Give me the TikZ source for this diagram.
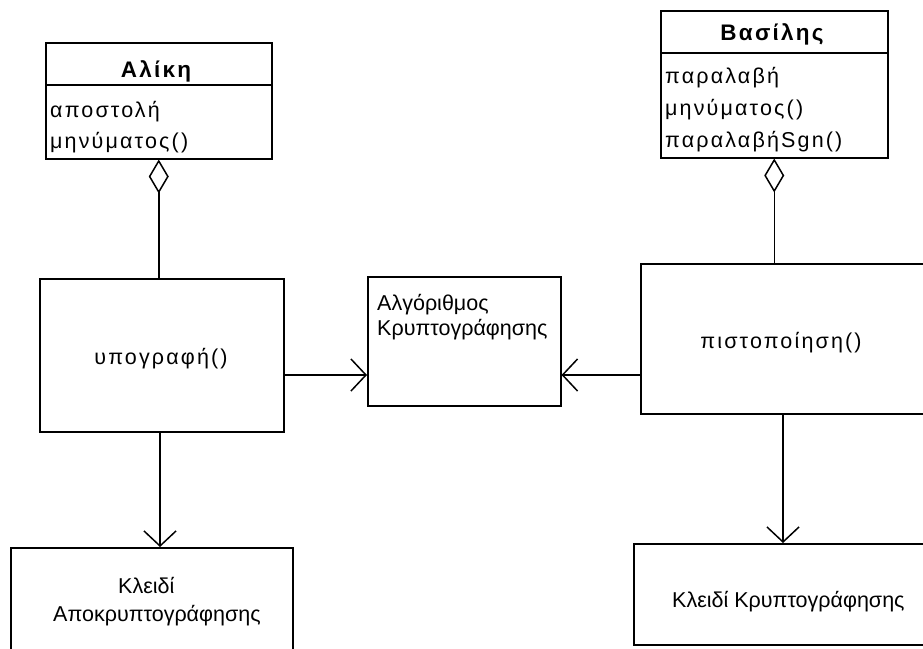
\documentclass[tikz,border=0pt]{standalone}
\usepackage{fontspec}
\setmainfont{Liberation Sans}
\newfontfamily\umlfont[LetterSpace=10]{Liberation Sans}
\usetikzlibrary{arrows.meta}

\tikzset{
  box/.style={draw, rectangle, line width=1.5pt, inner sep=0pt, anchor=north west},
  txt/.style={inner sep=0pt, font=\fontsize{21.5}{26}\selectfont},
  umltxt/.style={inner sep=0pt, font=\umlfont\fontsize{21.5}{26}\selectfont},
  headtxt/.style={inner sep=0pt, font=\umlfont\bfseries\fontsize{22.5}{27}\selectfont},
  conn/.style={line width=1.5pt},
  uses/.style={conn, -{Straight Barb[length=15pt,width=32pt,line width=1.5pt]}},
  aggr/.style={conn, -{Diamond[open,length=34pt,width=20pt,line width=1.5pt]}}
}

\begin{document}
\begin{tikzpicture}[x=1pt, y=-1pt]
  \useasboundingbox (0,0) rectangle (923,648);
  \clip (0,0) rectangle (923,648);

  % Alice class
  \node[box, minimum width=226pt, minimum height=42pt] (aliceH) at (45,42) {};
  \node[box, minimum width=226pt, minimum height=74pt] (alice) at (45,84) {};
  \node[headtxt, anchor=base] (aliceT) at (156,77) {Αλίκη};
  \node[umltxt, anchor=base west] (aliceM1) at (50,117) {αποστολή};
  \node[umltxt, anchor=base west] (aliceM2) at (50,148) {μηνύματος()};

  % Bob class
  \node[box, minimum width=227pt, minimum height=42pt] (bobH) at (660,10) {};
  \node[box, minimum width=227pt, minimum height=105pt] (bob) at (660,52) {};
  \node[headtxt, anchor=base] (bobT) at (772,40) {Βασίλης};
  \node[umltxt, anchor=base west] (bobM1) at (665,83) {παραλαβή};
  \node[umltxt, anchor=base west] (bobM2) at (665,115) {μηνύματος()};
  \node[umltxt, anchor=base west] (bobM3) at (665,147) {παραλαβήSgn()};

  % Signing and verification
  \node[box, minimum width=244pt, minimum height=153pt] (sig) at (39,278) {};
  \node[umltxt, anchor=base] (sigT) at (161,364) {υπογραφή()};
  \node[box, minimum width=290pt, minimum height=150pt] (ver) at (640,263) {};
  \node[umltxt, anchor=base] (verT) at (781,348) {πιστοποίηση()};

  % Encryption algorithm
  \node[box, minimum width=193pt, minimum height=129pt] (algo) at (367,276) {};
  \node[txt, anchor=base west] (algoT1) at (377,310) {Αλγόριθμος};
  \node[txt, anchor=base west] (algoT2) at (377,335) {Κρυπτογράφησης};

  % Keys
  \node[box, minimum width=282pt, minimum height=110pt] (dkey) at (10,547) {};
  \node[txt, anchor=base west] (dkeyT1) at (118,593) {Κλειδί};
  \node[txt, anchor=base west] (dkeyT2) at (53,621) {Αποκρυπτογράφησης};
  \node[box, minimum width=300pt, minimum height=101pt] (ekey) at (633,543) {};
  \node[txt, anchor=base west] (ekeyT) at (672,607) {Κλειδί Κρυπτογράφησης};

  % Connectors
  \draw[aggr] (alice.south |- sig.north) -- (alice.south);
  \draw[aggr] (bob.south |- ver.north) -- (bob.south);
  \draw[uses] (sig.east |- 0,375) -- (algo.west |- 0,375);
  \draw[uses] (ver.west |- 0,375) -- (algo.east |- 0,375);
  \draw[uses] (160,431) coordinate (sigB) -- (sigB |- dkey.north);
  \draw[uses] (783,413) coordinate (verB) -- (verB |- ekey.north);
\end{tikzpicture}
\end{document}
